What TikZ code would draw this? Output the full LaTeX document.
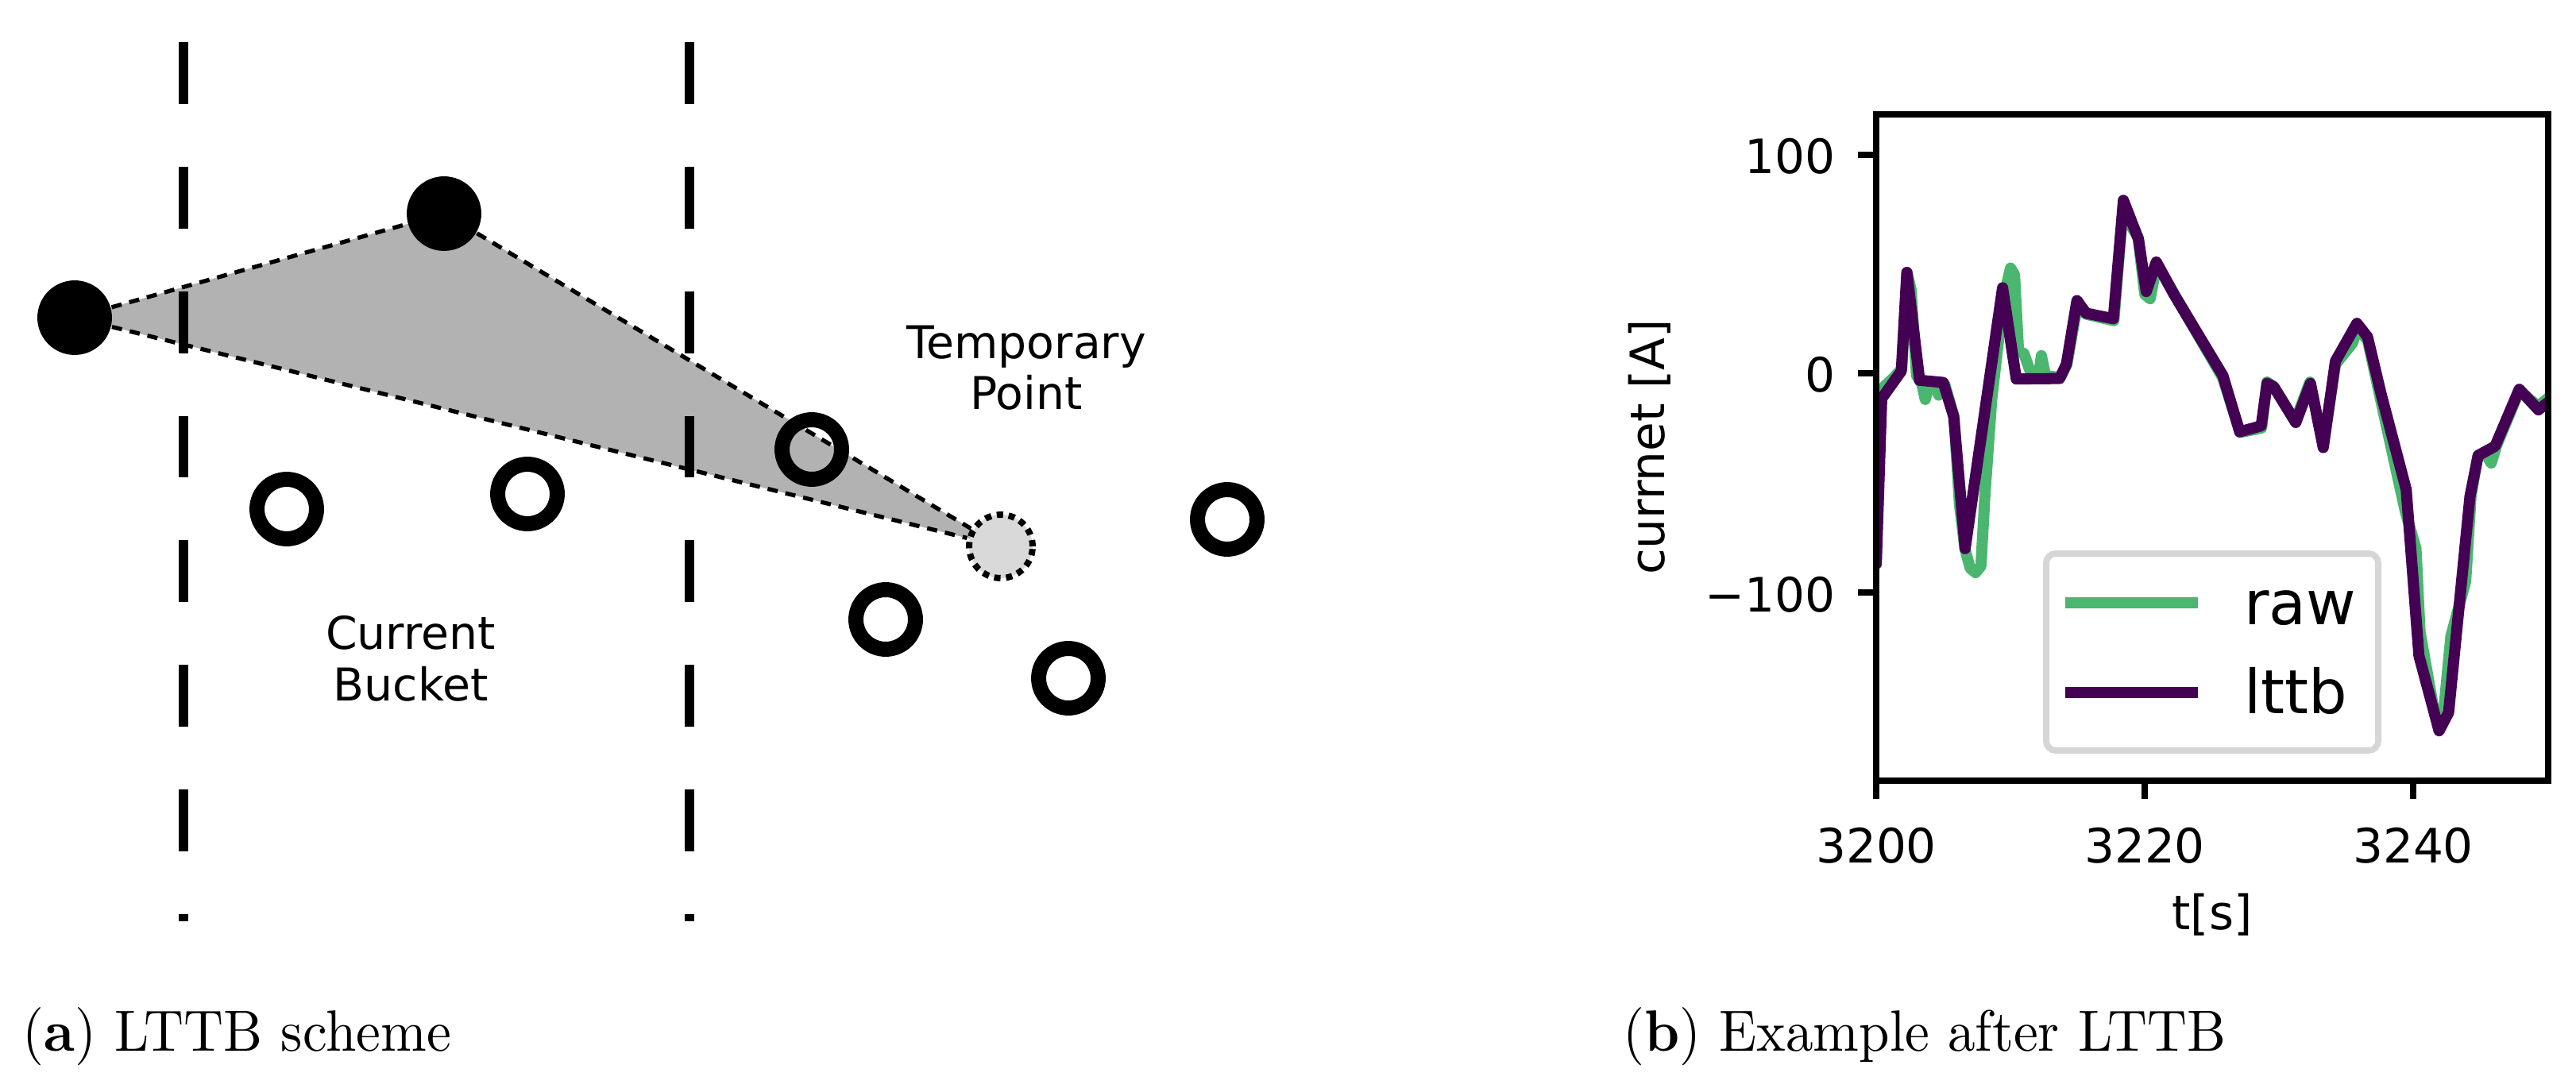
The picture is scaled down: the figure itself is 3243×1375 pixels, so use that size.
\documentclass[tikz,border=0pt]{standalone}
\usepackage{fontspec}
\usepackage{graphicx}
\usetikzlibrary{backgrounds}
\newfontfamily\dejavu{DejaVu Sans}
\definecolor{rawgreen}{HTML}{4AB66F}
\definecolor{lttbpurple}{HTML}{440154}
\tikzset{
  bucketline/.style={line width=1.7pt, dash pattern=on 0.39cm off 0.395cm},
  keptpt/.style={circle, fill=black, inner sep=0pt, minimum size=0.47cm},
  freept/.style={circle, draw=black, line width=2.7pt, inner sep=0pt, minimum size=0.375cm},
  temppt/.style={circle, draw=black, fill=black!15, line width=1.13pt,
    dash pattern=on 0.04cm off 0.035cm, inner sep=0pt, minimum size=0.4cm},
  areaedge/.style={line width=0.75pt, dash pattern=on 0.065cm off 0.05cm},
  schemetext/.style={font=\dejavu\fontsize{8.1pt}{9.2pt}\selectfont, align=center, inner sep=0pt},
  ticktext/.style={font=\dejavu\fontsize{8.5pt}{10pt}\selectfont, inner sep=0pt},
  legendtext/.style={font=\dejavu\fontsize{10.9pt}{13pt}\selectfont, inner sep=0pt},
  spine/.style={line width=1.13pt},
  rawcurve/.style={draw=rawgreen, line width=2pt, line join=round, line cap=round},
  lttbcurve/.style={draw=lttbpurple, line width=2pt, line join=round, line cap=round},
  legendbox/.style={draw=black!16, fill=white, line width=1.13pt, rounded corners=0.06cm}
}
\begin{document}
\begin{tikzpicture}[x=0.005cm, y=-0.005cm]
  \useasboundingbox (0,0) rectangle (3243,1375);
  \draw[bucketline] (231,53) -- (231,1160);
  \draw[bucketline] (868,53) -- (868,1160);
  \node[keptpt] (p0) at (94,400) {};
  \node[keptpt] (p1) at (559,269) {};
  \node[freept] (q1) at (361,641) {};
  \node[freept] (q2) at (664,622) {};
  \node[freept] (q3) at (1022,566) {};
  \node[freept] (q4) at (1115,780) {};
  \node[freept] (q5) at (1345,854) {};
  \node[freept] (q6) at (1545,654) {};
  \node[temppt] (tmp) at (1260,688) {};
  \begin{scope}[on background layer]
    \fill[black!30] (p0.center) -- (p1.center) -- (tmp.center) -- cycle;
  \end{scope}
  \begin{scope}[areaedge]
    \draw (p0) to (p1);
    \draw (p0) to (tmp);
    \draw (p1) to (tmp);
  \end{scope}
  \node[schemetext] (tmplabel) at (1292,463) {Temporary\\Point};
  \node[schemetext] (bucketlabel) at (517,829) {Current\\Bucket};

  \begin{scope}[shift={(2362,470)}, x=0.0846cm, y=0.013815cm]
    \clip (0,-186) rectangle (50,118);
    \draw[rawcurve] plot coordinates {(0,-87) (0.35,-12) (0.6,-6) (1.3,-2) (1.9,2) (2.3,46) (2.6,38) (3.0,-1) (3.4,-5) (3.65,-12) (4.0,-4) (4.35,-4) (4.65,-10) (5.1,-5) (5.8,-20) (6.2,-60) (6.6,-80) (7.0,-89) (7.4,-91) (7.8,-88) (8.1,-55) (8.6,-12) (9.2,20) (9.7,40) (10.0,48) (10.3,45) (10.6,10) (11.0,9) (11.4,2) (11.7,-2) (12.1,-1) (12.3,8) (12.6,-1) (13.7,-2) (14.2,4) (15.0,32) (15.6,27) (17.0,25) (17.7,24) (18.4,77) (18.8,69) (19.5,62) (20.0,36) (20.4,34) (20.9,50) (22.2,36) (25.8,-2) (27.1,-27) (28.7,-25) (29.1,-4) (29.6,-6) (31.2,-22) (32.3,-4) (33.3,-33) (34.2,4) (35.5,14) (35.8,21) (36.6,15) (37.6,-13) (39.4,-63) (40.2,-80) (40.5,-118) (41.6,-156) (42.0,-158) (42.3,-152) (42.8,-120) (43.9,-95) (44.3,-56) (44.8,-38) (45.3,-36) (45.8,-41) (46.2,-33) (47.9,-8) (49.3,-15) (50.3,-10)};
    \draw[lttbcurve] plot coordinates {(0,-87) (0.41,-11.5) (1.87,1) (2.28,46) (3.23,-3.2) (4.99,-4.2) (5.77,-19.8) (6.62,-80) (9.41,39) (10.43,-2.6) (13.66,-2.4) (14.16,4.1) (14.95,33.2) (15.63,27.4) (17.66,24.9) (18.41,78.9) (19.53,61.2) (20.11,37.3) (20.86,50.8) (22.15,36.3) (25.82,-1.1) (27.07,-26.7) (28.67,-24) (29.11,-4.6) (29.62,-6.3) (31.25,-22.5) (32.34,-4.6) (33.29,-33.9) (34.2,5.5) (35.8,22.8) (36.59,16.6) (37.6,-9.4) (39.47,-53) (40.42,-128.9) (41.92,-163.2) (42.63,-154.8) (44.22,-56.2) (44.83,-37.5) (46.09,-33.3) (47.89,-7.3) (49.32,-16.7) (50.3,-12)};
  \end{scope}
  \draw[spine] (2362,144) rectangle (3208,983);
  \foreach \yy/\lab [count=\i] in {194.6/100, 470/0, 746.3/−100} {
    \draw[spine] (2339,\yy) -- (2362,\yy);
    \node[ticktext, anchor=base east] (ytick\i) at (2312,\yy+24) {\lab};
  }
  \foreach \xx/\lab [count=\i] in {2362/3200, 2700/3220, 3038/3240} {
    \draw[spine] (\xx,983) -- (\xx,1006);
    \node[ticktext, anchor=base] (xtick\i) at (\xx,1086) {\lab};
  }
  \node[ticktext, anchor=base] (xlabel) at (2785,1170) {t[s]};
  \node[ticktext, anchor=base, rotate=90] (ylabel) at (2095,563) {currnet [A]};

  \draw[legendbox] (2576,697) rectangle (2994,945);
  \draw[rawcurve, line cap=butt] (2600,759) -- (2767,759);
  \draw[lttbcurve, line cap=butt] (2600,872) -- (2767,872);
  \node[legendtext, anchor=base west] (rawlabel) at (2824,786) {raw};
  \node[legendtext, anchor=base west] (lttblabel) at (2824,898) {lttb};

  \node[anchor=base west, inner sep=0pt] (capa) at (27,1323) {\resizebox{2.70cm}{0.275cm}{(\textbf{a}) LTTB scheme}};
  \node[anchor=base west, inner sep=0pt] (capb) at (2042,1323) {\resizebox{3.80cm}{0.275cm}{(\textbf{b}) Example after LTTB}};
\end{tikzpicture}
\end{document}
